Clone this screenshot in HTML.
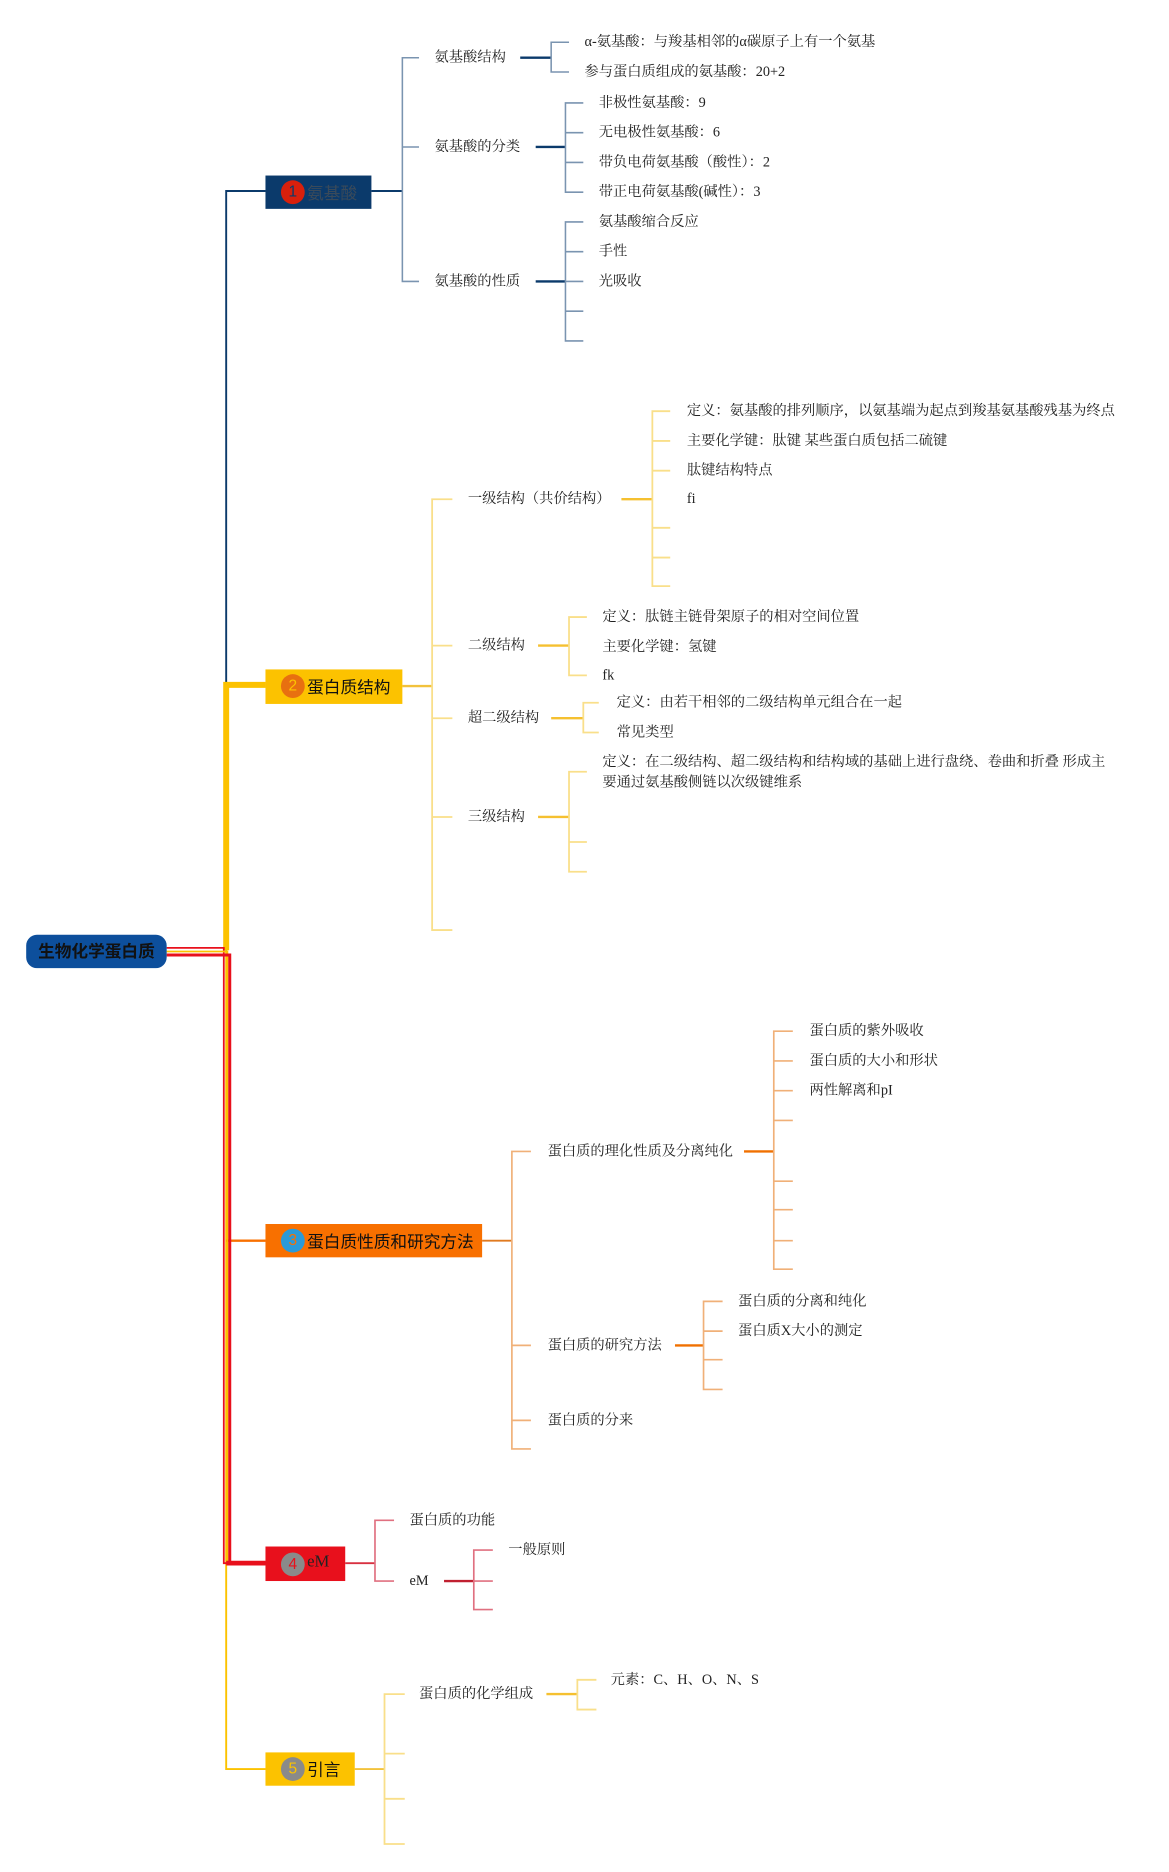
<!DOCTYPE html>
<html><head><meta charset="utf-8"><style>
html,body{margin:0;padding:0;background:#fff;}
svg{display:block}
text{font-family:"Liberation Serif","Noto Serif CJK SC","Noto Sans CJK SC",serif;font-size:12px;fill:#222;dominant-baseline:central}
.b{font-family:"Liberation Sans","Noto Sans CJK SC",sans-serif;font-size:14px;}
.n{font-family:"Liberation Sans",sans-serif;font-size:13px;text-anchor:middle}
</style></head><body>
<svg width="1169" height="1872" viewBox="0 0 982 1573" preserveAspectRatio="none" xmlns="http://www.w3.org/2000/svg">
<g transform="translate(0,2.5)">
<g fill="none">
<path d="M190 796V158H223" stroke="#0b3a6b" stroke-width="1.6"/>
<path d="M190 796V573H223" stroke="#fcc200" stroke-width="5"/>
<path d="M190 796V1484H223" stroke="#fcc200" stroke-width="1.6"/>
<path d="M190 1040H223" stroke="#f87000" stroke-width="2"/>
<path d="M140 794H188V1311H223" stroke="#e8101c" stroke-width="1.5"/>
<path d="M140 797H191V1311H223" stroke="#fcc200" stroke-width="1.5"/>
<path d="M140 800H193V1311H223" stroke="#e8101c" stroke-width="2.5"/>
<path d="M190 1311H223" stroke="#e8101c" stroke-width="4"/>

<path d="M312 158H338" stroke="#0b3a6b" stroke-width="1.6"/>
<path d="M352 46H338V234H352M338 121H352" stroke="#7a94b0" stroke-width="1.3"/>
<path d="M437 46H463M450 121H475M450 234H475" stroke="#0b3a6b" stroke-width="2"/>
<path d="M478 33H463V58H478" stroke="#7a94b0" stroke-width="1.3"/>
<path d="M490 84H475V159H490M475 109H490M475 134H490" stroke="#7a94b0" stroke-width="1.3"/>
<path d="M490 184H475V284H490M475 209H490M475 234H490M475 259H490" stroke="#7a94b0" stroke-width="1.3"/>

<path d="M338 574H363" stroke="#f2c23c" stroke-width="2"/>
<path d="M380 417H363V779H380M363 540H380M363 601H380M363 684H380" stroke="#f9df8a" stroke-width="1.5"/>
<path d="M522 417H548M452 540H478M463 601H490M452 684H478" stroke="#f5c030" stroke-width="2"/>
<path d="M563 343H548V490H563M548 368H563M548 393H563M548 441H563M548 466H563" stroke="#f9df8a" stroke-width="1.5"/>
<path d="M493 516H478V565H493" stroke="#f9df8a" stroke-width="1.5"/>
<path d="M503 588H490V613H503" stroke="#f9df8a" stroke-width="1.5"/>
<path d="M493 646H478V730H493M478 705H493" stroke="#f9df8a" stroke-width="1.5"/>

<path d="M405 1040H430" stroke="#e07a20" stroke-width="1.6"/>
<path d="M446 965H430V1215H446M430 1128H446M430 1191H446" stroke="#f0b078" stroke-width="1.4"/>
<path d="M625 965H650M567 1128H591" stroke="#f07000" stroke-width="2"/>
<path d="M666 864H650V1064H666M650 889H666M650 914H666M650 939H666M650 990H666M650 1014H666M650 1040H666" stroke="#f0b078" stroke-width="1.4"/>
<path d="M607 1091H591V1165H607M591 1116H607M591 1140H607" stroke="#f0b078" stroke-width="1.4"/>

<path d="M290 1311H315" stroke="#d83040" stroke-width="1.6"/>
<path d="M331 1275H315V1326H331" stroke="#e07080" stroke-width="1.4"/>
<path d="M373 1326H398" stroke="#c02030" stroke-width="2"/>
<path d="M414 1300H398V1350H414M398 1326H414" stroke="#e07080" stroke-width="1.4"/>

<path d="M298 1484H323" stroke="#f2c23c" stroke-width="1.6"/>
<path d="M340 1421H323V1547H340M323 1471H340M323 1509H340" stroke="#f9df8a" stroke-width="1.5"/>
<path d="M459 1421H485" stroke="#f5c030" stroke-width="2"/>
<path d="M501 1409H485V1434H501" stroke="#f9df8a" stroke-width="1.5"/>
</g>

<rect x="22" y="783" width="118" height="28" rx="9" fill="#0d4f9c"/>
<text x="81" y="797" class="b" text-anchor="middle" style="font-weight:bold;fill:#111">生物化学蛋白质</text>

<rect x="223" y="145" width="89" height="28" fill="#0b3a6b"/>
<circle cx="246" cy="159" r="10" fill="#d8200c"/><text x="246" y="159" class="n" style="fill:#0b3a6b">1</text>
<text x="258" y="160" class="b" style="fill:#3a4a5a">氨基酸</text>

<rect x="223" y="560" width="115" height="29" fill="#fcc200"/>
<circle cx="246" cy="574" r="10" fill="#e87010"/><text x="246" y="574" class="n" style="fill:#fcc200">2</text>
<text x="258" y="575" class="b" style="fill:#111">蛋白质结构</text>

<rect x="223" y="1026" width="182" height="28" fill="#f87000"/>
<circle cx="246" cy="1040" r="10" fill="#2a9ad8"/><text x="246" y="1040" class="n" style="fill:#f87000">3</text>
<text x="258" y="1041" class="b" style="fill:#111">蛋白质性质和研究方法</text>

<rect x="223" y="1297" width="67" height="29" fill="#e8101c"/>
<circle cx="246" cy="1312" r="10" fill="#8a8a8a"/><text x="246" y="1312" class="n" style="fill:#e8101c">4</text>
<text x="258" y="1309" style="font-size:14px;fill:#222">eM</text>

<rect x="223" y="1470" width="75" height="28" fill="#fcc200"/>
<circle cx="246" cy="1484" r="10" fill="#8a8a8a"/><text x="246" y="1484" class="n" style="fill:#fcc200">5</text>
<text x="258" y="1485" class="b" style="fill:#111">引言</text>

<text x="365" y="46">氨基酸结构</text>
<text x="365" y="121">氨基酸的分类</text>
<text x="365" y="234">氨基酸的性质</text>
<text x="491" y="33">α-氨基酸：与羧基相邻的α碳原子上有一个氨基</text>
<text x="491" y="58">参与蛋白质组成的氨基酸：20+2</text>
<text x="503" y="84">非极性氨基酸：9</text>
<text x="503" y="109">无电极性氨基酸：6</text>
<text x="503" y="134">带负电荷氨基酸（酸性）：2</text>
<text x="503" y="159">带正电荷氨基酸(碱性）：3</text>
<text x="503" y="184">氨基酸缩合反应</text>
<text x="503" y="209">手性</text>
<text x="503" y="234">光吸收</text>

<text x="393" y="417">一级结构（共价结构）</text>
<text x="393" y="540">二级结构</text>
<text x="393" y="601">超二级结构</text>
<text x="393" y="684">三级结构</text>
<text x="577" y="343">定义：氨基酸的排列顺序，以氨基端为起点到羧基氨基酸残基为终点</text>
<text x="577" y="368">主要化学键：肽键 某些蛋白质包括二硫键</text>
<text x="577" y="393">肽键结构特点</text>
<text x="577" y="417">fi</text>
<text x="506" y="516">定义：肽链主链骨架原子的相对空间位置</text>
<text x="506" y="541">主要化学键：氢键</text>
<text x="506" y="565">fk</text>
<text x="518" y="588">定义：由若干相邻的二级结构单元组合在一起</text>
<text x="518" y="613">常见类型</text>
<text x="506" y="638">定义：在二级结构、超二级结构和结构域的基础上进行盘绕、卷曲和折叠 形成主</text>
<text x="506" y="655">要通过氨基酸侧链以次级键维系</text>

<text x="460" y="965">蛋白质的理化性质及分离纯化</text>
<text x="460" y="1128">蛋白质的研究方法</text>
<text x="460" y="1191">蛋白质的分来</text>
<text x="680" y="864">蛋白质的紫外吸收</text>
<text x="680" y="889">蛋白质的大小和形状</text>
<text x="680" y="914">两性解离和pI</text>
<text x="620" y="1091">蛋白质的分离和纯化</text>
<text x="620" y="1116">蛋白质X大小的测定</text>

<text x="344" y="1275">蛋白质的功能</text>
<text x="344" y="1326">eM</text>
<text x="427" y="1300">一般原则</text>

<text x="352" y="1421">蛋白质的化学组成</text>
<text x="513" y="1409">元素：C、H、O、N、S</text>
</g>
</svg>
</body></html>
